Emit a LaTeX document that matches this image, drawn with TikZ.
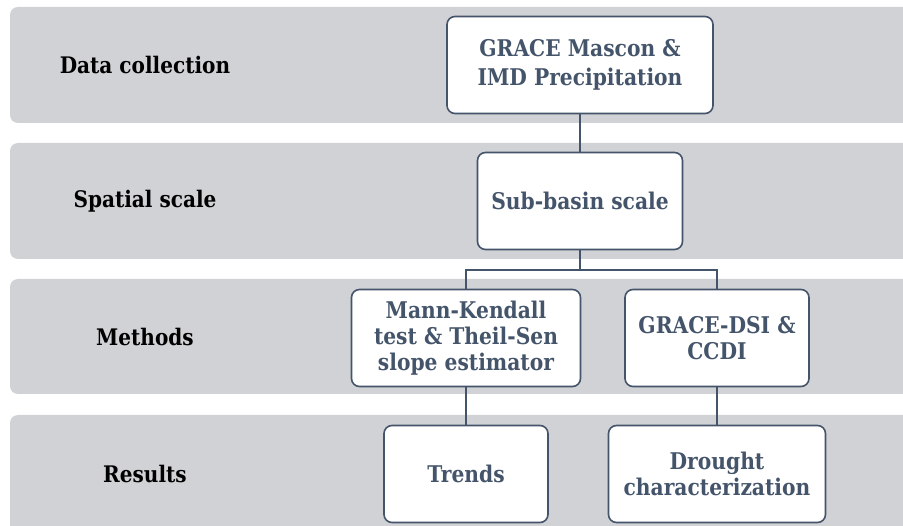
\documentclass[tikz,border=0pt]{standalone}
\usepackage{fontspec}
\setmainfont{DejaVu Serif}[FakeStretch=0.88]
\usepackage{xcolor}
\usepackage{tikz}
\definecolor{bandgray}{HTML}{D1D2D5}
\definecolor{boxblue}{HTML}{44546A}

\begin{document}
\begin{tikzpicture}[x=1pt, y=-1pt,
        band/.style = {fill = bandgray, rounded corners = 8pt},
        rowlabel/.style = {font = \bfseries\fontsize{22.8}{26}\selectfont, text = black},
        box/.style = {draw = boxblue, fill = white, line width = 1.6pt, rounded corners = 8pt,
            align = center, inner sep = 0pt, minimum height = 97pt,
            font = \bfseries\fontsize{23}{26}\selectfont, text = boxblue},
        link/.style = {draw = boxblue, line width = 1.6pt}]
        \useasboundingbox (0, 0) rectangle (903, 526);
        \clip (0, 0) rectangle (903, 526);
        % bands
        \fill [band] (10, 7) rectangle (930, 123);
        \fill [band] (10, 143) rectangle (930, 259);
        \fill [band] (10, 279) rectangle (930, 394);
        \fill [band] (10, 415) rectangle (930, 540);
        \node (r1) at (145, 65) [rowlabel] {Data collection};
        \node (r2) at (145, 201) [rowlabel] {Spatial scale};
        \node (r3) at (145, 337) [rowlabel] {Methods};
        \node (r4) at (145, 474) [rowlabel] {Results};
        % boxes
        \node (1) at (580, 65) [box, minimum width = 266pt, font = \bfseries\fontsize{23}{29}\selectfont] {GRACE Mascon \&\\IMD Precipitation};
        \node (2) at (580, 201) [box, minimum width = 205pt] {Sub-basin scale};
        \node (3) at (466, 338) [box, minimum width = 229pt] {Mann-Kendall\\test \& Theil-Sen\\slope estimator};
        \node (4) at (717, 338) [box, minimum width = 184pt] {GRACE-DSI \&\\CCDI};
        \node (5) at (466, 474) [box, minimum width = 164pt] {Trends};
        \node (6) at (717, 474) [box, minimum width = 217pt] {Drought\\characterization};
        \coordinate (split) at (580, 270);
        \draw [link] (1) -- (2);
        \draw [link] (2) -- (split) -| (3);
        \draw [link] (split) -| (4);
        \draw [link] (3) -- (5);
        \draw [link] (4) -- (6);
    \end{tikzpicture}
\end{document}
